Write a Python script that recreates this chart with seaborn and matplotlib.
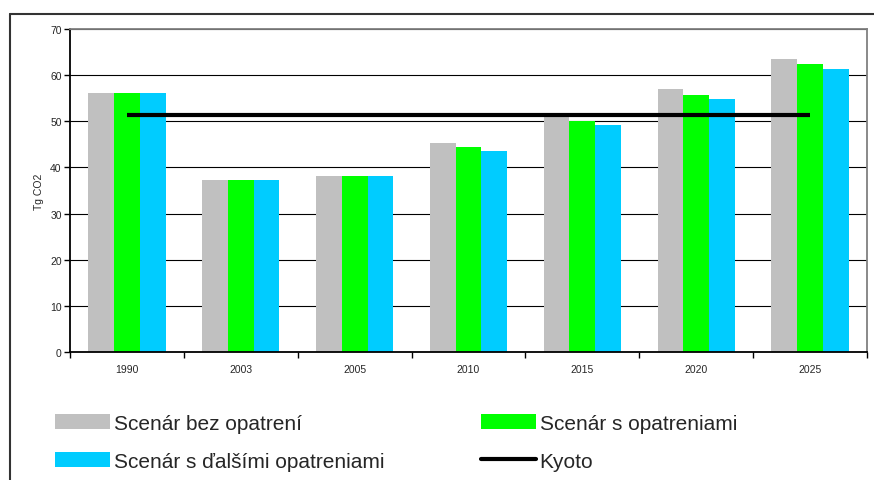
import numpy as np
import pandas as pd
import matplotlib
matplotlib.use("Agg")
import matplotlib.pyplot as plt
from matplotlib.lines import Line2D
from matplotlib.patches import Patch
import seaborn as sns

years = ["1990", "2003", "2005", "2010", "2015", "2020", "2025"]
series_names = ["Scenár bez opatrení", "Scenár s opatreniami", "Scenár s ďalšími opatreniami"]
bez_opatreni = [56.1, 37.2, 38.2, 45.2, 50.9, 56.9, 63.4]
s_opatreniami = [56.1, 37.2, 38.2, 44.4, 50.0, 55.8, 62.4]
dalsie_opatrenia = [56.1, 37.2, 38.2, 43.5, 49.1, 54.8, 61.3]
kyoto = [51.4, 51.4, 51.4, 51.4, 51.4, 51.4, 51.4]
kyoto_label = "Kyoto"
y_label = "Tg CO2"
colors = ["#C0C0C0", "#00FF00", "#00CCFF"]

df = pd.DataFrame({
    "year": years * 3,
    "value": bez_opatreni + s_opatreniami + dalsie_opatrenia,
    "series": [series_names[0]] * 7 + [series_names[1]] * 7 + [series_names[2]] * 7,
})

sns.set_style("white")
plt.rcParams["font.family"] = ["Liberation Sans", "DejaVu Sans"]

fig = plt.figure(figsize=(8.74, 4.81), dpi=100)
ax = fig.add_axes([70 / 874, 1 - 353 / 481, (867 - 70) / 874, (353 - 30) / 481])

sns.barplot(data=df, x="year", y="value", hue="series", order=years,
            hue_order=series_names, palette=colors, saturation=1,
            width=0.68, gap=0, ax=ax, legend=False, errorbar=None, linewidth=0)
sns.lineplot(x=np.arange(len(years)), y=kyoto, color="black", linewidth=3.0,
             ax=ax, legend=False, solid_capstyle="butt")

ax.set_xlim(-0.5, len(years) - 0.5)
ax.set_ylim(0, 70)
ax.set_yticks(np.arange(0, 71, 10))
ax.yaxis.grid(True, color="black", linewidth=0.8)
ax.set_axisbelow(True)
ax.set_xlabel("")
ax.set_ylabel(y_label, fontsize=7.5, labelpad=4)
ax.tick_params(axis="y", which="major", direction="out", length=4, width=1,
               labelsize=7.5, pad=2, left=True, color="black")
ax.tick_params(axis="x", which="major", length=0, labelsize=7.5, pad=9)
ax.set_xticks(np.arange(-0.5, len(years)), minor=True)
ax.tick_params(axis="x", which="minor", direction="out", length=4, width=1,
               bottom=True, color="black")

for side in ["left", "bottom"]:
    ax.spines[side].set_color("black")
    ax.spines[side].set_linewidth(1.3)
    ax.spines[side].set_visible(True)
for side in ["top", "right"]:
    ax.spines[side].set_color("#808080")
    ax.spines[side].set_linewidth(1.3)
    ax.spines[side].set_visible(True)

# outer chart-area frame
fig.add_artist(Line2D([10 / 874, 10 / 874], [0, 1 - 15 / 481], transform=fig.transFigure,
                      color="#333333", linewidth=1.5))
fig.add_artist(Line2D([10 / 874, 1], [1 - 15 / 481, 1 - 15 / 481], transform=fig.transFigure,
                      color="#333333", linewidth=1.5))

handles = [
    Patch(facecolor=colors[0], edgecolor="none", label=series_names[0]),
    Patch(facecolor=colors[2], edgecolor="none", label=series_names[2]),
    Patch(facecolor=colors[1], edgecolor="none", label=series_names[1]),
    Line2D([0], [0], color="black", linewidth=3.0, label=kyoto_label),
]
fig.legend(handles=handles, loc="upper left", bbox_to_anchor=(55 / 874, 1 - 415 / 481),
           ncol=2, frameon=False, fontsize=15, borderpad=0, borderaxespad=0,
           handlelength=2.64, handleheight=0.72, handletextpad=0.2,
           columnspacing=4.6, labelspacing=0.9)

fig.savefig("out.png", dpi=100)
